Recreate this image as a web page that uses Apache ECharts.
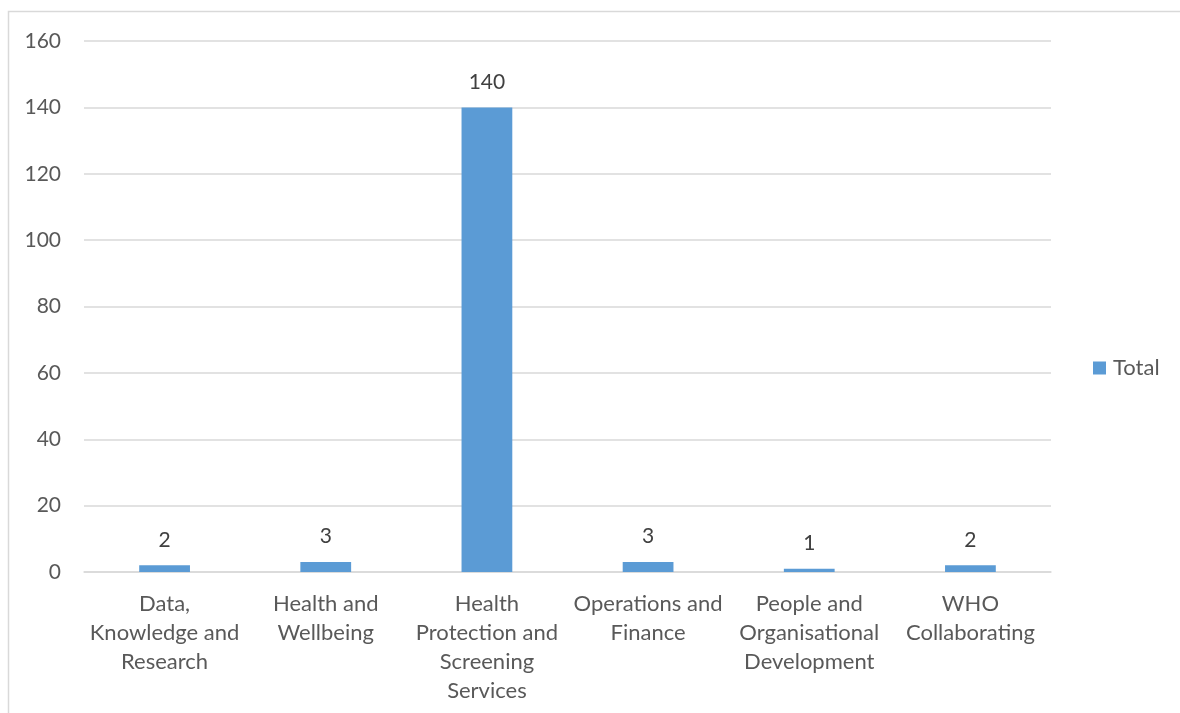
<!DOCTYPE html>
<html>
<head>
<meta charset="utf-8">
<script src="https://cdn.jsdelivr.net/npm/echarts@6/dist/echarts.min.js"></script>
<style>
  html, body { margin: 0; padding: 0; background: #fff; }
  #chart { width: 1180px; height: 713px; }
</style>
</head>
<body>
<div id="chart"></div>
<script>
// Directorates and their totals
const categories = [
  'Data,\nKnowledge and\nResearch',
  'Health and\nWellbeing',
  'Health\nProtection and\nScreening\nServices',
  'Operations and\nFinance',
  'People and\nOrganisational\nDevelopment',
  'WHO\nCollaborating'
];
const totals = [2, 3, 140, 3, 1, 2];
const yTicks = { min: 0, max: 160, interval: 20 };

const FONT = 'Lato, "Open Sans", sans-serif';
const TEXT = '#595959';
const BLUE = '#5b9bd5';

const chart = echarts.init(document.getElementById('chart'), null, { renderer: 'canvas' });
chart.setOption({
  animation: false,
  backgroundColor: '#ffffff',
  graphic: [{
    type: 'rect',
    shape: { x: 8.5, y: 11.5, width: 1200, height: 760 },
    style: { fill: 'none', stroke: '#d9d9d9', lineWidth: 1.5 },
    silent: true
  }],
  grid: { left: 84, right: 129, top: 41, bottom: 141, containLabel: false },
  legend: {
    data: ['Total'],
    orient: 'vertical',
    left: 1093,
    top: 357,
    padding: 0,
    itemWidth: 13,
    itemHeight: 13,
    itemGap: 6,
    icon: 'rect',
    textStyle: { color: TEXT, fontSize: 22, fontFamily: FONT, padding: [0, 0, 0, 2] }
  },
  xAxis: {
    type: 'category',
    data: categories,
    axisLine: { show: true, lineStyle: { color: '#d9d9d9', width: 1.5 } },
    axisTick: { show: false },
    axisLabel: {
      color: TEXT, fontSize: 22, fontFamily: FONT, lineHeight: 29,
      margin: 17, interval: 0
    }
  },
  yAxis: {
    type: 'value',
    min: yTicks.min,
    max: yTicks.max,
    interval: yTicks.interval,
    axisLine: { show: false },
    axisTick: { show: false },
    splitLine: { lineStyle: { color: '#d9d9d9', width: 1.5 } },
    axisLabel: { color: TEXT, fontSize: 21, fontFamily: FONT, margin: 23 }
  },
  series: [{
    name: 'Total',
    type: 'bar',
    data: totals,
    barWidth: '31.5%',
    itemStyle: { color: BLUE },
    label: {
      show: true,
      position: 'top',
      distance: 15,
      color: '#404040',
      fontSize: 21,
      fontFamily: FONT
    }
  }]
});
</script>
</body>
</html>
